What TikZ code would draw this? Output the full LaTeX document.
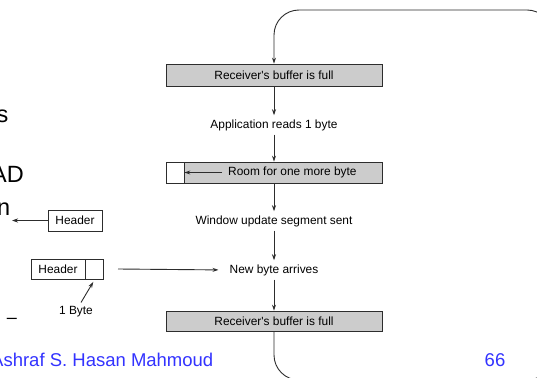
\documentclass[tikz,border=0pt]{standalone}
\usepackage{fontspec}
\setmainfont{Liberation Sans}
\usetikzlibrary{arrows.meta}
\definecolor{slideblue}{RGB}{51,51,255}
\definecolor{boxgray}{RGB}{204,204,204}
\definecolor{linegray}{RGB}{45,45,45}
\begin{document}
\begin{tikzpicture}[x=1pt,y=-1pt,
  small/.style={font=\fontsize{11.9}{14}\selectfont},
  flowbox/.style={small, draw=linegray, fill=boxgray, line width=0.8pt, minimum width=216pt, minimum height=21pt, inner sep=0pt},
  flowtext/.style={small, inner xsep=2pt, inner ysep=4pt},
  conn/.style={draw=linegray, line width=0.9pt, -{Stealth[length=6pt,width=4pt]}},
  hdr/.style={small, draw=linegray, fill=white, line width=0.8pt, minimum height=20pt, inner sep=0pt},
  bigtext/.style={font=\fontsize{23.5}{28}\selectfont, inner sep=0pt},
  slidetext/.style={text=slideblue, font=\fontsize{18.5}{22}\selectfont, inner sep=0pt}]
\useasboundingbox (0,0) rectangle (537,377);
\clip (0,0) rectangle (537,377);
\fill[white] (0,0) rectangle (537,377);

% left slide text fragments
\node[bigtext, anchor=base east] (fragS) at (8.5,122) {s};
\node[bigtext, anchor=base east] (fragAD) at (24,182) {AD};
\node[bigtext, anchor=base east] (fragN) at (10.5,215) {n};
\node[font=\fontsize{18}{20}\selectfont, inner sep=0pt, anchor=base] (fragDash) at (12,323) {–};

% flow
\node[flowbox, minimum height=22pt] (full1) at (274,75) {Receiver\textquotesingle s buffer is full};
\node[flowtext] (app) at (274,125) {Application reads 1 byte};
\node[flowbox] (room) at (274,172.5) {};
\node[draw=linegray, fill=white, line width=0.8pt, minimum width=18pt, minimum height=21pt, inner sep=0pt, anchor=west] (roomfree) at (room.west) {};
\node[small, anchor=west, inner xsep=6pt, inner ysep=0pt] (roomtxt) at (222,172.5) {Room for one more byte};
\node[flowtext] (win) at (274,221) {Window update segment sent};
\node[flowtext] (newb) at (274,270) {New byte arrives};
\node[flowbox, minimum height=20pt] (full2) at (274,321) {Receiver\textquotesingle s buffer is full};

\draw[conn] (full1.south) -- (app.north);
\draw[conn] (app.south) -- (room.north);
\draw[conn] (roomtxt.west) -- (roomfree.east);
\draw[conn] (room.south) -- (win.north);
\draw[conn] (win.south) -- (newb.north);
\draw[conn] (newb.south) -- (full2.north);
\draw[conn, rounded corners=25pt] (full2.south) -- (274,380) -- (552,380) -- (552,10) -- (274,10) -- (full1.north);

% segments
\node[hdr, minimum width=54pt, minimum height=21pt] (h1) at (75,220.5) {Header};
\coordinate (h1end) at (12,220.5);
\draw[conn] (h1.west) -- (h1end);
\node[hdr, minimum width=54pt] (h2) at (58,269) {Header};
\node[hdr, minimum width=18pt, anchor=west] (h2b) at (h2.east) {};
\coordinate (nbstart) at (118,269);
\draw[conn, shorten >=9pt] (nbstart) -- (newb.west);
\node[small, inner sep=0pt, inner ysep=4pt] (oneb) at (76,312) {1 Byte};
\draw[conn, shorten >=3pt] ([xshift=5pt]oneb.north) -- (h2b.south);

% footer
\node[slidetext, anchor=base east] (author) at (213.5,366) {Ashraf S. Hasan Mahmoud};
\node[slidetext, anchor=base east] (page) at (505.5,366) {66};
\end{tikzpicture}
\end{document}
